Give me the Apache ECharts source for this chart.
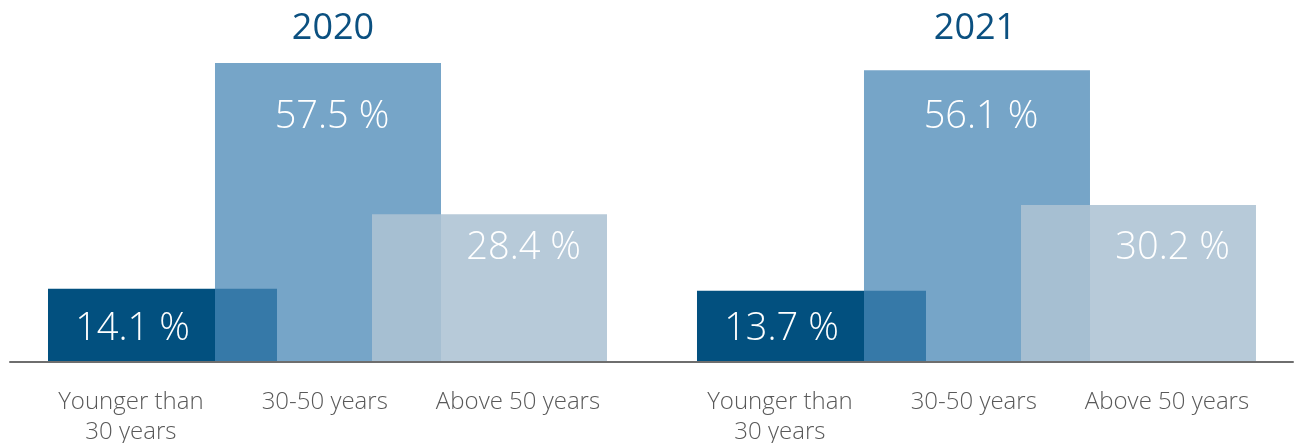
<!DOCTYPE html>
<html>
<head>
<meta charset="utf-8">
<script src="https://cdn.jsdelivr.net/npm/echarts@6/dist/echarts.min.js"></script>
<style>
html,body{margin:0;padding:0;background:#fff;}
#chart{width:1295px;height:443px;}
</style>
</head>
<body>
<div id="chart"></div>
<script>
// ---- data ----
const years = ['2020', '2021'];
const categories = ['Younger than\n30 years', '30-50 years', 'Above 50 years'];
const values2020 = [14.1, 57.5, 28.4];
const values2021 = [13.7, 56.1, 30.2];
const yearValues = [values2020, values2021];

// ---- style config (per category) ----
const catStyle = [
  { color: '#02507f',              width: 229, shift: 0,    labelDx: -30,  labelLevel: 6.35,  catDx: -31.6 },
  { color: 'rgba(72,135,182,0.75)', width: 226, shift: 3.25, labelDx: 7.25, labelLevel: 47.1, catDx: 0 },
  { color: 'rgba(173,194,212,0.875)', width: 235, shift: 2.5, labelDx: 36.7, labelLevel: 21.8, catDx: 31 }
];
const FONT = '"Open Sans", "Noto Sans", sans-serif';

function slotOf(yearIdx, catIdx) { return yearIdx * 4 + catIdx; }

function makeRender(ci) {
  const cfg = catStyle[ci];
  return function (params, api) {
    const x = api.value(0), v = api.value(1);
    const base = api.coord([x, 0]);
    const top = api.coord([x, v]);
    const ly = api.coord([x, cfg.labelLevel])[1];
    const cx = base[0] + cfg.shift;
    return {
      type: 'group',
      children: [
        { type: 'rect',
          shape: { x: cx - cfg.width / 2, y: top[1], width: cfg.width, height: base[1] - top[1] },
          style: { fill: cfg.color } },
        { type: 'text', x: base[0] + cfg.labelDx, y: ly,
          style: { text: v.toFixed(1) + ' %', fill: '#ffffff', fontFamily: FONT, fontWeight: 300,
                   fontSize: 38, align: 'center', verticalAlign: 'middle' } },
        { type: 'text', x: base[0] + cfg.catDx, y: base[1] + 25,
          style: { text: categories[ci], fill: '#595959', fontFamily: FONT, fontWeight: 300,
                   fontSize: 24, lineHeight: 30, align: 'center', verticalAlign: 'top' } }
      ]
    };
  };
}

const series = categories.map(function (c, ci) {
  return {
    type: 'custom',
    name: c,
    renderItem: makeRender(ci),
    data: years.map(function (y, yi) { return [slotOf(yi, ci), yearValues[yi][ci]]; }),
    z: 2 + ci
  };
});

const chart = echarts.init(document.getElementById('chart'), null, { renderer: 'canvas' });
chart.setOption({
  animation: false,
  backgroundColor: '#ffffff',
  title: [
    { text: years[0], left: 328, top: 6, textAlign: 'center',
      textStyle: { color: '#0b5080', fontFamily: FONT, fontWeight: 'normal', fontSize: 36 } },
    { text: years[1], left: 970, top: 6, textAlign: 'center',
      textStyle: { color: '#0b5080', fontFamily: FONT, fontWeight: 'normal', fontSize: 36 } }
  ],
  grid: { left: 10, right: 2, top: 50, bottom: 81, containLabel: false },
  xAxis: {
    type: 'value', min: -0.9399, max: 6.9677, z: 10,
    axisLine: { show: true, lineStyle: { color: '#6e6e6e', width: 2 } },
    axisTick: { show: false }, axisLabel: { show: false }, splitLine: { show: false }
  },
  yAxis: {
    type: 'value', min: 0, max: 60, show: false, splitLine: { show: false }
  },
  series: series
});
</script>
</body>
</html>
